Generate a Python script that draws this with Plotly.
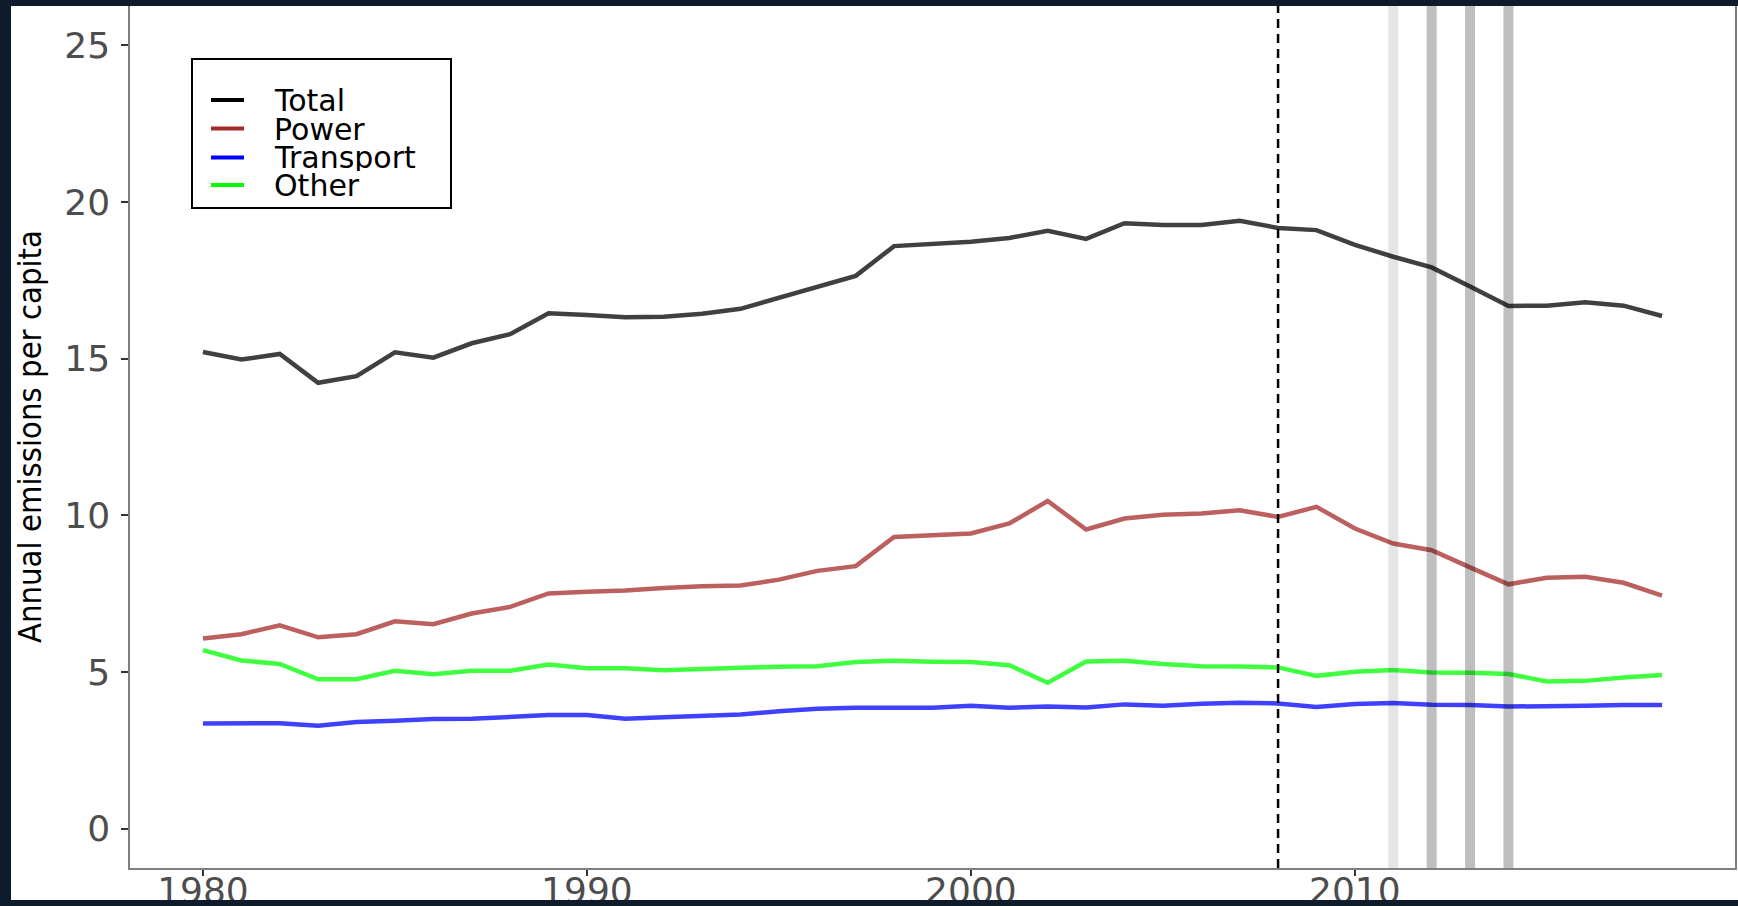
import plotly.graph_objects as go

# ---- data -------------------------------------------------------------
years = list(range(1980, 2019))

total = [15.21, 14.97, 15.15, 14.23, 14.44, 15.20, 15.03, 15.49, 15.78, 16.45,
         16.39, 16.32, 16.34, 16.43, 16.59, 16.94, 17.30, 17.64, 18.59, 18.66,
         18.73, 18.85, 19.08, 18.82, 19.32, 19.26, 19.26, 19.40, 19.17, 19.10,
         18.63, 18.25, 17.91, 17.30, 16.68, 16.69, 16.80, 16.69, 16.36]

power = [6.07, 6.21, 6.49, 6.11, 6.21, 6.62, 6.53, 6.87, 7.08, 7.51,
         7.56, 7.60, 7.68, 7.74, 7.76, 7.95, 8.23, 8.38, 9.31, 9.37,
         9.42, 9.74, 10.46, 9.55, 9.90, 10.02, 10.06, 10.16, 9.95, 10.27,
         9.58, 9.10, 8.89, 8.34, 7.80, 8.01, 8.04, 7.85, 7.44]

transport = [3.36, 3.36, 3.37, 3.29, 3.41, 3.45, 3.50, 3.51, 3.58, 3.63,
             3.63, 3.51, 3.56, 3.59, 3.65, 3.75, 3.83, 3.86, 3.85, 3.86,
             3.93, 3.86, 3.90, 3.87, 3.97, 3.93, 3.99, 4.02, 4.00, 3.89,
             3.98, 4.01, 3.96, 3.95, 3.90, 3.93, 3.93, 3.95, 3.95]

other = [5.70, 5.37, 5.26, 4.77, 4.77, 5.04, 4.93, 5.04, 5.04, 5.24,
         5.12, 5.12, 5.06, 5.11, 5.14, 5.17, 5.19, 5.32, 5.36, 5.33,
         5.32, 5.22, 4.66, 5.34, 5.36, 5.26, 5.19, 5.18, 5.15, 4.88,
         5.01, 5.07, 4.99, 4.98, 4.94, 4.70, 4.72, 4.83, 4.91]

series_names = ["Total", "Power", "Transport", "Other"]
line_colors = ["rgba(0,0,0,0.75)", "rgba(165,42,42,0.75)",
               "rgba(0,0,255,0.75)", "rgba(0,255,0,0.75)"]
key_colors = ["#000000", "#a52a2a", "#0000ff", "#00ff00"]

policy_year = 2008
light_event_years = [2011]
event_years = [2012, 2013, 2014]

x_ticks = [1980, 1990, 2000, 2010]
y_ticks = [0, 5, 10, 15, 20, 25]

# ---- page geometry ----------------------------------------------------
W, H = 1738, 906
ML, MR, MT, MB = 130, 3, 6, 38
PW, PH = W - ML - MR, H - MT - MB
BG = "#0d1b2a"


def px_x(x):
    return (x - ML) / PW


def px_y(y):
    return (H - MB - y) / PH


fig = go.Figure()
for name, vals, col in zip(series_names, [total, power, transport, other], line_colors):
    fig.add_trace(go.Scatter(x=years, y=vals, name=name, mode="lines",
                             line=dict(color=col, width=4.5), showlegend=False,
                             hoverinfo="x+y+name"))

shapes = []
# white card behind the chart
shapes.append(dict(type="rect", xref="paper", yref="paper", layer="below",
                   x0=px_x(11), x1=px_x(W), y0=px_y(900), y1=px_y(6),
                   fillcolor="white", line=dict(width=0)))
# event markers
for yr in light_event_years:
    shapes.append(dict(type="line", xref="x", yref="paper", layer="above",
                       x0=yr, x1=yr, y0=0, y1=1,
                       line=dict(color="rgba(0,0,0,0.10)", width=10)))
for yr in event_years:
    shapes.append(dict(type="line", xref="x", yref="paper", layer="above",
                       x0=yr, x1=yr, y0=0, y1=1,
                       line=dict(color="rgba(0,0,0,0.25)", width=10)))
shapes.append(dict(type="line", xref="x", yref="paper", layer="above",
                   x0=policy_year, x1=policy_year, y0=0, y1=1,
                   line=dict(color="black", width=2.5, dash="9px,6px")))

# legend box
shapes.append(dict(type="rect", xref="paper", yref="paper", layer="above",
                   x0=px_x(192), x1=px_x(451), y0=px_y(208), y1=px_y(59),
                   fillcolor="white", line=dict(color="black", width=2)))
legend_rows = [100, 128.6, 157.4, 185]
annotations = []
for name, col, ry in zip(series_names, key_colors, legend_rows):
    shapes.append(dict(type="line", xref="paper", yref="paper", layer="above",
                       x0=px_x(211), x1=px_x(244), y0=px_y(ry), y1=px_y(ry),
                       line=dict(color=col, width=4)))
    annotations.append(dict(xref="paper", yref="paper", x=px_x(272), y=px_y(ry),
                            xanchor="left", yanchor="middle", showarrow=False,
                            text=name, height=28,
                            font=dict(family="DejaVu Sans", size=30, color="black")))

# y-axis title
annotations.append(dict(xref="paper", yref="paper", x=px_x(30), y=px_y(437),
                        xanchor="center", yanchor="middle", showarrow=False,
                        textangle=-90, text="Annual emissions per capita",
                        font=dict(family="DejaVu Sans Condensed, DejaVu Sans, sans-serif",
                                  size=32.5, color="black")))

# dark strip trimming the bottom of the card
shapes.append(dict(type="rect", xref="paper", yref="paper", layer="above",
                   x0=px_x(0), x1=px_x(W), y0=px_y(H), y1=px_y(900),
                   fillcolor=BG, line=dict(width=0)))

tick_font = dict(family="DejaVu Sans", size=36, color="#4d4d4d")

fig.update_layout(
    width=W, height=H,
    margin=dict(l=ML, r=MR, t=MT, b=MB, pad=0, autoexpand=False),
    paper_bgcolor=BG,
    plot_bgcolor="white",
    shapes=shapes,
    annotations=annotations,
    showlegend=False,
    xaxis=dict(range=[1978.1, 2019.9], tickvals=x_ticks, showgrid=False,
               zeroline=False, showline=True, linecolor="#7f7f7f", linewidth=1.5,
               ticks="outside", ticklen=6, tickwidth=1.5, tickcolor="#333333",
               tickfont=tick_font, ticklabelstandoff=-16, automargin=False),
    yaxis=dict(range=[-1.25, 26.25], tickvals=y_ticks, showgrid=False,
               zeroline=False, showline=True, mirror=True, linecolor="#7f7f7f",
               linewidth=1.5, ticks="outside", ticklen=7, tickwidth=1.5,
               tickcolor="#333333", tickfont=tick_font, ticklabelstandoff=4,
               automargin=False),
)

fig.write_html("out.html")
